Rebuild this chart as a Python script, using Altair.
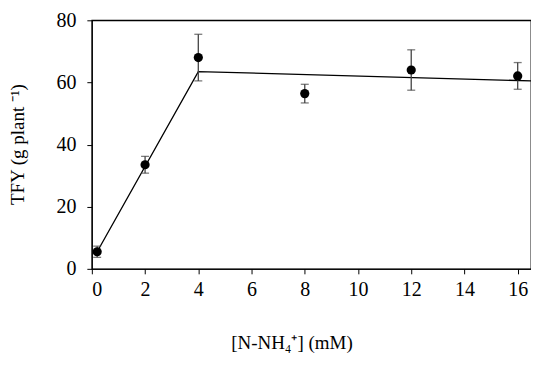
import altair as alt
import pandas as pd

# data
x_vals = [0.2, 2, 4, 8, 12, 16]
y_vals = [5.5, 33.5, 68.0, 56.4, 64.0, 62.1]
err_vals = [1.8, 2.7, 7.5, 3.0, 6.5, 4.3]

fit_x = [0.2, 4, 16.5]
fit_y = [5.5, 63.5, 60.5]

df = pd.DataFrame({"x": x_vals, "y": y_vals, "err": err_vals})
df["lo"] = df["y"] - df["err"]
df["hi"] = df["y"] + df["err"]
fit = pd.DataFrame({"x": fit_x, "y": fit_y})

FONT = "Liberation Serif"

xs = alt.Scale(domain=[0, 16.5], nice=False, zero=False)
ys = alt.Scale(domain=[0, 80], nice=False)

xaxis = alt.Axis(values=list(range(0, 17, 2)), title="[N-NH\u2084\u207A] (mM)",
                 labelPadding=6,
                 titleX=200, titleY=74, titleBaseline="middle", titleAlign="center")
yaxis = alt.Axis(values=list(range(0, 81, 10)), title="TFY (g plant \u207B\u00B9)",
                 labelExpr="datum.value % 20 == 0 ? datum.label : ''",
                 labelPadding=11,
                 titleX=-74, titleY=124, titleBaseline="middle", titleAlign="center")

line = alt.Chart(fit).mark_line(color="black", strokeWidth=1.3).encode(
    x=alt.X("x:Q", scale=xs, axis=xaxis),
    y=alt.Y("y:Q", scale=ys, axis=yaxis),
)
rule = alt.Chart(df).mark_rule(color="#444444", strokeWidth=1.3).encode(
    x=alt.X("x:Q", scale=xs), y=alt.Y("lo:Q", scale=ys), y2="hi:Q")
cap_lo = alt.Chart(df).mark_tick(color="#444444", thickness=1.3, size=8, orient="horizontal").encode(
    x=alt.X("x:Q", scale=xs), y=alt.Y("lo:Q", scale=ys))
cap_hi = alt.Chart(df).mark_tick(color="#444444", thickness=1.3, size=8, orient="horizontal").encode(
    x=alt.X("x:Q", scale=xs), y=alt.Y("hi:Q", scale=ys))
pts = alt.Chart(df).mark_circle(color="black", opacity=1, size=85).encode(
    x=alt.X("x:Q", scale=xs), y=alt.Y("y:Q", scale=ys))

chart = alt.layer(line, rule, cap_lo, cap_hi, pts).properties(
    width=440, height=249,
    autosize=alt.AutoSizeParams(type="none"),
    padding={"left": 84, "top": 12, "right": 0, "bottom": 85},
    background="white",
).configure_view(stroke="black", strokeWidth=1.3).configure_axis(
    grid=False, tickSize=5, domainColor="black", tickColor="black",
    labelFont=FONT, labelFontSize=20, labelColor="black",
    titleFont=FONT, titleFontSize=19, titleFontWeight="normal", titleColor="black",
)

chart.save("out.html", embed_options={"renderer": "svg", "actions": False})
